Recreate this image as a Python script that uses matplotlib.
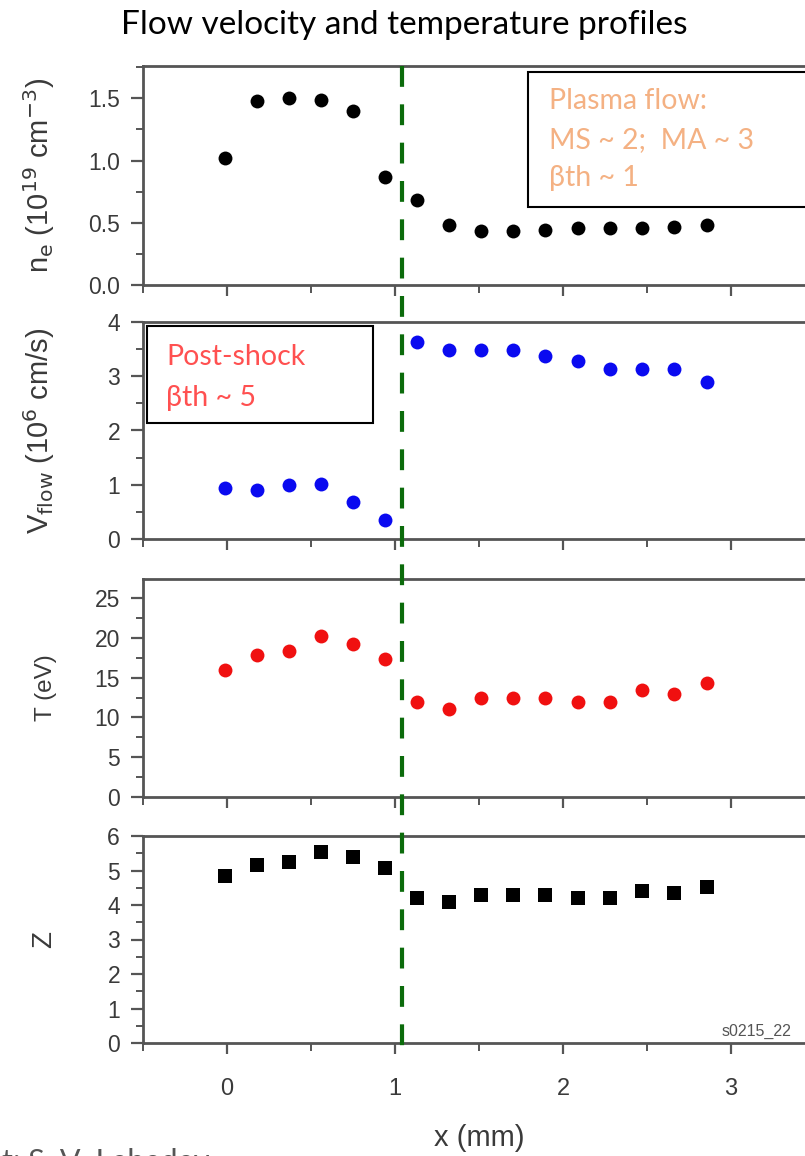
import matplotlib
matplotlib.use("Agg")
import matplotlib.pyplot as plt
from matplotlib.patches import Rectangle
from matplotlib.lines import Line2D
from matplotlib.ticker import MultipleLocator
import matplotlib.transforms as mtransforms

# Measurement positions (mm)
x_mm = [-0.01, 0.18, 0.37, 0.56, 0.75, 0.94, 1.13, 1.32,
        1.51, 1.70, 1.89, 2.09, 2.28, 2.47, 2.66, 2.86]

# Electron density (1e19 cm^-3)
n_e = [1.02, 1.48, 1.50, 1.49, 1.40, 0.87, 0.68, 0.48,
       0.43, 0.43, 0.44, 0.46, 0.46, 0.46, 0.47, 0.48]

# Flow velocity (1e6 cm/s)
v_flow = [0.94, 0.90, 1.00, 1.02, 0.69, 0.35, 3.64, 3.49,
          3.49, 3.49, 3.38, 3.28, 3.14, 3.14, 3.14, 2.89]

# Temperature (eV)
temp = [16.0, 17.9, 18.4, 20.2, 19.2, 17.4, 12.0, 11.0,
        12.5, 12.5, 12.5, 12.0, 12.0, 13.4, 12.9, 14.3]

# Ionisation
z_ion = [4.84, 5.16, 5.24, 5.55, 5.39, 5.06, 4.20, 4.08,
         4.28, 4.28, 4.28, 4.20, 4.20, 4.42, 4.34, 4.51]

shock_x = 1.04
x_ticks = [0, 1, 2, 3]

W, H = 805, 1156
fig = plt.figure(figsize=(W / 100, H / 100), dpi=100)


def fx(px):
    return px / W


def fy(py):
    return 1 - py / H


axis_gray = "#555555"
text_gray = "#3a3a3a"
tick_font = ["Liberation Sans", "DejaVu Sans"]
label_font = ["Liberation Sans", "DejaVu Sans"]
box_font = ["Lato", "Open Sans", "DejaVu Sans"]

left_px, right_px = 143, 815
panels = [
    # (top px, bottom px, data, ylim, major, minor, label, label size, marker, color)
    (66, 285, n_e, (0, 1.76), 0.5, 0.25,
     r"n$_\mathrm{e}$ (10$^{19}$ cm$^{-3}$)", 21, "o", "black"),
    (322, 539, v_flow, (0, 4), 1, 0.5,
     r"V$_\mathrm{flow}$ (10$^{6}$ cm/s)", 21, "o", "#0a0af0"),
    (579, 797, temp, (0, 27.4), 5, 2.5, "T (eV)", 17.5, "o", "#f01010"),
    (836, 1043, z_ion, (0, 6), 1, 0.5, "Z", 20, "s", "black"),
]

axes = []
for top, bot, vals, ylim, major, minor, label, lsize, mk, col in panels:
    ax = fig.add_axes([fx(left_px), fy(bot), fx(right_px - left_px), (bot - top) / H])
    ax.plot(x_mm, vals, linestyle="none", marker=mk, color=col,
            markersize=10 if mk == "o" else 9.5, markeredgewidth=0)
    ax.set_xlim(-0.5, 3.5)
    ax.set_ylim(*ylim)
    ax.yaxis.set_major_locator(MultipleLocator(major))
    ax.yaxis.set_minor_locator(MultipleLocator(minor))
    ax.set_xticks(x_ticks)
    ax.xaxis.set_minor_locator(MultipleLocator(0.5))
    for side in ("left", "bottom", "top", "right"):
        ax.spines[side].set_color(axis_gray)
        ax.spines[side].set_linewidth(2.0)
    ax.tick_params(axis="y", which="major", direction="out", length=8.5,
                   width=1.6, color=axis_gray, labelcolor=text_gray,
                   labelsize=16.5, pad=8)
    ax.tick_params(axis="y", which="minor", direction="out", length=5,
                   width=1.4, color=axis_gray)
    ax.tick_params(axis="x", which="major", direction="out", length=8,
                   width=1.6, color=axis_gray, labelcolor=text_gray,
                   labelsize=17, pad=17)
    ax.tick_params(axis="x", which="minor", direction="out", length=6,
                   width=1.4, color=axis_gray)
    for lab in ax.get_yticklabels() + ax.get_xticklabels():
        lab.set_family(tick_font)
    ax.set_ylabel(label, fontsize=lsize, color=text_gray, family=label_font)
    ax.yaxis.set_label_coords(-0.128, 0.5)
    axes.append(ax)

for ax in axes[:-1]:
    ax.tick_params(axis="x", labelbottom=False)

# x label placed in the space below the tick labels of the last panel
axes[-1].set_xlabel("x (mm)", fontsize=21, color=text_gray, family=label_font)
axes[-1].xaxis.set_label_coords(0.5, -(1124 - 1043) / (1043 - 836))

# Shock position: dashed line running through all four panels
trans = mtransforms.blended_transform_factory(axes[0].transData, fig.transFigure)
fig.add_artist(Line2D([shock_x, shock_x], [fy(66), fy(1049)], transform=trans,
                      color="#0b6b0b", linewidth=3.0, dashes=(5.0, 4.2),
                      dash_capstyle="butt", zorder=5))

# Annotation boxes
box_size = 20.5
fig.add_artist(Rectangle((fx(528), fy(207)), fx(300), (207 - 72) / H,
                         transform=fig.transFigure, fill=True,
                         facecolor="white", edgecolor="black",
                         linewidth=1.5, zorder=6))
for txt, ypx in (("Plasma flow:", 101), ("MS ~ 2;  MA ~ 3", 140),
                 ("\u03b2th ~ 1", 178)):
    fig.text(fx(549), fy(ypx), txt, color="#f4b183", fontsize=box_size,
             family=box_font, va="center", ha="left", zorder=7)

fig.add_artist(Rectangle((fx(147), fy(423)), fx(373 - 147), (423 - 326) / H,
                         transform=fig.transFigure, fill=True,
                         facecolor="white", edgecolor="black",
                         linewidth=1.5, zorder=6))
for txt, ypx in (("Post-shock", 357), ("\u03b2th ~ 5", 398)):
    fig.text(fx(166), fy(ypx), txt, color="#ff5050", fontsize=box_size,
             family=box_font, va="center", ha="left", zorder=7)

# Title
fig.text(fx(404), fy(25), "Flow velocity and temperature profiles",
         fontsize=24, family=box_font, color="black", ha="center", va="center")

# Figure id and credit line (the credit runs off the bottom edge)
fig.text(fx(722), fy(1036), "s0215_22", fontsize=11.5, color="#555555",
         family=tick_font, ha="left", va="baseline")
fig.text(fx(2), fy(1171), "t: S. V. Lebedev", fontsize=22, color="#555555",
         family=box_font, ha="left", va="baseline")

fig.savefig("out.png", dpi=100)
